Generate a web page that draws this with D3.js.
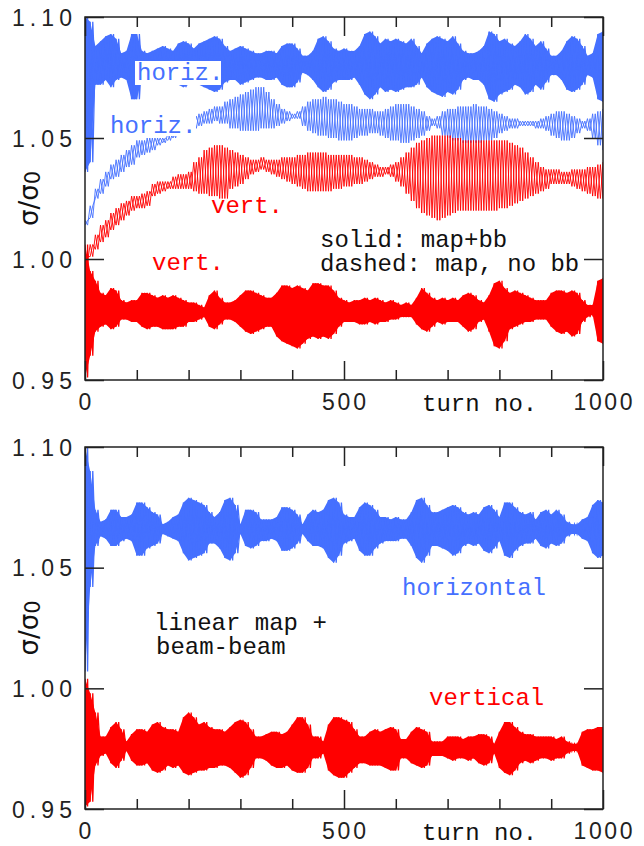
<!DOCTYPE html>
<html><head><meta charset="utf-8">
<script src="https://cdn.jsdelivr.net/npm/d3@7/dist/d3.min.js"></script>
<style>body{margin:0;background:#fff}svg{display:block}</style>
</head><body>
<script>
// sample turns (every 10 turns); hi = upper peak, lo = lower peak of the oscillation
const turns = d3.range(0, 1001, 10);

// ---- top panel: solid = map+bb, dashed = map, no bb ----
const topHSolidHi = [1.100,1.098,1.088,1.090,1.092,1.093,1.091,1.085,1.086,1.093,
1.093,1.086,1.085,1.086,1.087,1.088,1.087,1.086,1.089,1.090,
1.089,1.087,1.089,1.090,1.091,1.092,1.091,1.088,1.086,1.087,
1.088,1.087,1.086,1.085,1.085,1.086,1.086,1.085,1.088,1.089,
1.089,1.087,1.084,1.084,1.086,1.091,1.092,1.090,1.087,1.086,
1.087,1.086,1.086,1.088,1.093,1.094,1.092,1.089,1.091,1.090,
1.091,1.090,1.089,1.091,1.088,1.085,1.089,1.091,1.092,1.091,
1.090,1.092,1.089,1.086,1.085,1.085,1.086,1.088,1.094,1.093,
1.090,1.091,1.089,1.088,1.090,1.093,1.091,1.088,1.090,1.087,
1.084,1.084,1.086,1.090,1.092,1.091,1.088,1.084,1.085,1.093,1.094];
const topHSolidLo = [1.036,1.040,1.072,1.072,1.074,1.071,1.074,1.075,1.074,1.066,
1.066,1.075,1.075,1.074,1.073,1.073,1.074,1.074,1.072,1.071,
1.072,1.073,1.072,1.071,1.070,1.069,1.070,1.073,1.074,1.074,
1.072,1.073,1.074,1.075,1.075,1.074,1.074,1.075,1.072,1.071,
1.071,1.073,1.077,1.076,1.074,1.071,1.069,1.070,1.073,1.074,
1.074,1.074,1.075,1.072,1.068,1.066,1.068,1.071,1.069,1.070,
1.069,1.070,1.071,1.071,1.072,1.075,1.071,1.069,1.068,1.067,
1.069,1.068,1.070,1.074,1.075,1.074,1.074,1.072,1.066,1.065,
1.068,1.069,1.070,1.072,1.071,1.068,1.069,1.072,1.070,1.073,
1.076,1.076,1.074,1.070,1.069,1.070,1.072,1.076,1.075,1.066,1.065];
const topHDashHi = [1.016,1.022,1.029,1.033,1.036,1.039,1.041,1.043,1.045,1.047,
1.049,1.049,1.050,1.050,1.050,1.050,1.052,1.053,1.055,1.056,
1.057,1.059,1.060,1.061,1.062,1.063,1.063,1.065,1.066,1.067,
1.068,1.069,1.070,1.071,1.071,1.069,1.066,1.064,1.062,1.061,
1.060,1.061,1.063,1.065,1.066,1.066,1.067,1.066,1.066,1.065,
1.064,1.064,1.063,1.062,1.062,1.062,1.061,1.061,1.062,1.063,
1.064,1.064,1.064,1.063,1.062,1.061,1.059,1.058,1.059,1.061,
1.062,1.062,1.063,1.063,1.063,1.064,1.063,1.063,1.062,1.061,
1.060,1.059,1.058,1.058,1.057,1.057,1.057,1.057,1.058,1.059,
1.060,1.061,1.061,1.060,1.059,1.058,1.057,1.058,1.060,1.061,1.062];
const topHDashLo = [1.014,1.017,1.025,1.027,1.030,1.033,1.034,1.036,1.038,1.039,
1.042,1.043,1.044,1.045,1.047,1.048,1.049,1.050,1.051,1.052,
1.053,1.054,1.055,1.056,1.056,1.057,1.056,1.056,1.054,1.054,
1.053,1.053,1.053,1.053,1.054,1.054,1.054,1.055,1.056,1.057,
1.058,1.058,1.055,1.053,1.052,1.051,1.051,1.050,1.050,1.049,
1.049,1.049,1.050,1.051,1.051,1.052,1.052,1.051,1.050,1.049,
1.049,1.048,1.048,1.049,1.050,1.051,1.053,1.055,1.054,1.051,
1.050,1.049,1.049,1.048,1.048,1.048,1.048,1.049,1.049,1.050,
1.052,1.053,1.054,1.054,1.055,1.055,1.055,1.054,1.054,1.053,
1.051,1.050,1.049,1.049,1.050,1.052,1.054,1.053,1.050,1.047,1.045];
const topVDashHi = [1.001,1.006,1.010,1.014,1.016,1.019,1.021,1.023,1.024,1.026,
1.026,1.027,1.028,1.031,1.032,1.032,1.032,1.034,1.035,1.035,
1.036,1.040,1.042,1.045,1.046,1.047,1.047,1.046,1.045,1.044,
1.043,1.042,1.041,1.041,1.042,1.041,1.041,1.041,1.042,1.042,
1.042,1.043,1.043,1.044,1.044,1.044,1.044,1.043,1.043,1.043,
1.043,1.043,1.042,1.042,1.041,1.040,1.039,1.038,1.038,1.039,
1.040,1.042,1.044,1.046,1.048,1.049,1.050,1.051,1.051,1.051,
1.051,1.050,1.050,1.049,1.049,1.049,1.049,1.049,1.049,1.049,
1.049,1.049,1.048,1.047,1.046,1.044,1.042,1.040,1.038,1.037,
1.037,1.037,1.036,1.036,1.037,1.037,1.037,1.038,1.038,1.039,1.040];
const topVDashLo = [0.999,1.001,1.004,1.007,1.009,1.012,1.014,1.016,1.018,1.020,
1.021,1.021,1.022,1.026,1.027,1.028,1.029,1.029,1.029,1.029,
1.029,1.028,1.027,1.027,1.026,1.026,1.025,1.025,1.029,1.030,
1.031,1.033,1.035,1.036,1.037,1.036,1.035,1.034,1.033,1.032,
1.031,1.030,1.029,1.028,1.028,1.028,1.028,1.028,1.029,1.029,
1.030,1.030,1.031,1.031,1.032,1.033,1.034,1.034,1.035,1.034,
1.032,1.030,1.027,1.024,1.021,1.019,1.018,1.017,1.016,1.017,
1.018,1.019,1.020,1.020,1.020,1.020,1.020,1.020,1.020,1.020,
1.021,1.021,1.022,1.023,1.024,1.025,1.026,1.027,1.028,1.029,
1.031,1.031,1.031,1.031,1.030,1.029,1.028,1.027,1.026,1.025,1.025];
const topVSolidHi = [1.006,0.995,0.991,0.986,0.985,0.988,0.987,0.983,0.982,0.983,
0.983,0.986,0.986,0.985,0.984,0.985,0.984,0.985,0.984,0.983,
0.982,0.982,0.981,0.980,0.985,0.987,0.984,0.982,0.982,0.983,
0.985,0.987,0.987,0.986,0.985,0.984,0.984,0.986,0.989,0.989,
0.988,0.989,0.988,0.987,0.990,0.990,0.989,0.989,0.987,0.984,
0.983,0.982,0.983,0.983,0.984,0.983,0.984,0.983,0.982,0.983,
0.982,0.981,0.982,0.981,0.984,0.988,0.986,0.984,0.983,0.984,
0.983,0.984,0.983,0.985,0.986,0.985,0.983,0.982,0.985,0.990,
0.991,0.988,0.986,0.987,0.986,0.985,0.984,0.983,0.983,0.983,
0.986,0.987,0.987,0.986,0.987,0.986,0.983,0.981,0.981,0.991,0.992];
const topVSolidLo = [0.951,0.960,0.970,0.972,0.973,0.971,0.972,0.975,0.975,0.974,
0.974,0.972,0.971,0.972,0.972,0.971,0.971,0.971,0.972,0.972,
0.974,0.974,0.975,0.976,0.972,0.971,0.973,0.975,0.975,0.974,
0.972,0.970,0.969,0.970,0.971,0.972,0.972,0.968,0.966,0.965,
0.964,0.963,0.965,0.967,0.968,0.967,0.968,0.967,0.969,0.972,
0.974,0.974,0.974,0.973,0.973,0.974,0.973,0.974,0.974,0.975,
0.975,0.976,0.976,0.976,0.973,0.971,0.970,0.972,0.974,0.973,
0.974,0.974,0.974,0.972,0.970,0.971,0.974,0.975,0.970,0.964,
0.963,0.966,0.971,0.972,0.973,0.974,0.974,0.975,0.975,0.975,
0.972,0.970,0.969,0.970,0.968,0.969,0.974,0.976,0.977,0.966,0.965];

// ---- bottom panel: linear map + beam-beam ----
const botHHi = [1.100,1.090,1.074,1.069,1.070,1.074,1.074,1.071,1.071,1.072,
1.077,1.077,1.075,1.073,1.072,1.068,1.069,1.071,1.072,1.077,
1.079,1.078,1.077,1.076,1.073,1.071,1.073,1.078,1.079,1.076,
1.068,1.074,1.074,1.073,1.070,1.070,1.070,1.071,1.075,1.075,
1.074,1.072,1.068,1.072,1.074,1.073,1.074,1.078,1.079,1.077,
1.072,1.071,1.071,1.075,1.077,1.076,1.074,1.071,1.071,1.070,
1.071,1.070,1.070,1.073,1.078,1.079,1.076,1.073,1.073,1.074,
1.075,1.076,1.075,1.073,1.072,1.073,1.072,1.075,1.076,1.074,
1.071,1.077,1.077,1.075,1.073,1.072,1.073,1.070,1.073,1.074,
1.072,1.074,1.072,1.069,1.068,1.068,1.070,1.071,1.076,1.078,1.077];
const botHLo = [1.007,1.042,1.059,1.063,1.062,1.059,1.059,1.061,1.062,1.061,
1.055,1.055,1.058,1.059,1.060,1.064,1.063,1.062,1.061,1.056,
1.053,1.054,1.055,1.056,1.060,1.060,1.058,1.054,1.053,1.056,
1.064,1.059,1.058,1.059,1.061,1.061,1.062,1.061,1.057,1.057,
1.058,1.060,1.064,1.061,1.059,1.059,1.058,1.054,1.052,1.055,
1.060,1.061,1.062,1.057,1.055,1.055,1.058,1.060,1.061,1.061,
1.061,1.062,1.062,1.059,1.054,1.052,1.055,1.059,1.059,1.058,
1.057,1.055,1.056,1.059,1.060,1.059,1.060,1.057,1.056,1.058,
1.061,1.055,1.054,1.057,1.059,1.060,1.060,1.062,1.059,1.058,
1.060,1.059,1.060,1.063,1.064,1.064,1.062,1.061,1.056,1.054,1.055];
const botVHi = [1.004,0.998,0.990,0.980,0.980,0.984,0.986,0.983,0.978,0.981,
0.983,0.983,0.982,0.985,0.986,0.984,0.983,0.983,0.982,0.988,
0.990,0.988,0.985,0.986,0.984,0.983,0.983,0.982,0.984,0.986,
0.987,0.986,0.983,0.980,0.980,0.981,0.982,0.982,0.981,0.982,
0.985,0.988,0.988,0.985,0.980,0.980,0.978,0.985,0.988,0.988,
0.987,0.986,0.983,0.980,0.980,0.982,0.983,0.982,0.983,0.984,
0.983,0.979,0.979,0.982,0.984,0.983,0.982,0.978,0.978,0.978,
0.980,0.980,0.980,0.979,0.980,0.980,0.981,0.981,0.980,0.977,
0.982,0.986,0.986,0.984,0.982,0.981,0.981,0.980,0.980,0.980,
0.980,0.979,0.980,0.978,0.977,0.977,0.982,0.983,0.983,0.984,0.984];
const botVLo = [0.951,0.953,0.968,0.972,0.973,0.969,0.967,0.970,0.974,0.970,
0.968,0.968,0.969,0.966,0.965,0.966,0.968,0.967,0.968,0.965,
0.964,0.965,0.966,0.966,0.967,0.967,0.968,0.968,0.967,0.965,
0.963,0.964,0.967,0.971,0.971,0.970,0.968,0.967,0.967,0.968,
0.966,0.965,0.965,0.967,0.971,0.971,0.973,0.966,0.964,0.963,
0.963,0.965,0.967,0.969,0.969,0.968,0.968,0.968,0.967,0.966,
0.966,0.971,0.971,0.969,0.968,0.967,0.968,0.972,0.972,0.972,
0.971,0.970,0.971,0.971,0.970,0.971,0.969,0.968,0.969,0.973,
0.967,0.965,0.964,0.966,0.969,0.970,0.969,0.970,0.971,0.971,
0.970,0.971,0.971,0.973,0.974,0.974,0.968,0.967,0.966,0.966,0.965];

const xTicks = d3.range(0, 1001, 100);
const xMajor = [0, 500, 1000];
const xTickLabels = ["0", "500", "1000"];
const yTicks = [0.95, 1.00, 1.05, 1.10];
const yTickLabels = ["0.95", "1.00", "1.05", "1.10"];

const BLUE = "#4570ff", RED = "#ff0000";
const W = 644, H = 846;
const svg = d3.select("body").append("svg").attr("width", W).attr("height", H);
const x = d3.scaleLinear().domain([0, 1000]).range([85, 603]);
const MONO = "'Courier New', Courier, 'Liberation Mono', monospace";
const SANS = "'Liberation Sans', Arial, sans-serif";

const panels = [
  { top: 17, bottom: 380, id: "a",
    series: [
      { hi: topHDashHi, lo: topHDashLo, color: BLUE, w: 0.9, solid: false },
      { hi: topVDashHi, lo: topVDashLo, color: RED, w: 0.9, solid: false },
      { hi: topHSolidHi, lo: topHSolidLo, color: BLUE, w: 1.3, solid: true },
      { hi: topVSolidHi, lo: topVSolidLo, color: RED, w: 1.3, solid: true }
    ],
    labels: [
      { t: "horiz.", x: 137, y: 80, c: BLUE, box: [135, 61, 86, 24] },
      { t: "horiz.", x: 110, y: 133, c: BLUE, box: [108, 116, 88, 20] },
      { t: "vert.", x: 211, y: 213, c: RED },
      { t: "vert.", x: 152, y: 270, c: RED },
      { t: "solid: map+bb", x: 320, y: 247, c: "#111" },
      { t: "dashed: map, no bb", x: 320, y: 271, c: "#111" }
    ] },
  { top: 447, bottom: 809, id: "b",
    series: [
      { hi: botHHi, lo: botHLo, color: BLUE, w: 1.3, solid: true },
      { hi: botVHi, lo: botVLo, color: RED, w: 1.3, solid: true }
    ],
    labels: [
      { t: "horizontal", x: 402, y: 595, c: BLUE },
      { t: "vertical", x: 429, y: 705, c: RED },
      { t: "linear map +", x: 154, y: 630, c: "#111" },
      { t: "beam-beam", x: 156, y: 654, c: "#111" }
    ] }
];

panels.forEach(p => {
  const y = d3.scaleLinear().domain([0.95, 1.10]).range([p.bottom, p.top]);
  const g = svg.append("g");
  svg.append("clipPath").attr("id", "clip" + p.id).append("rect")
    .attr("x", x(0)).attr("y", p.top).attr("width", x(1000) - x(0)).attr("height", p.bottom - p.top);

  const line = d3.line().x(d => x(d[0])).y(d => y(d[1]));
  const area = d3.area().x((d, i) => x(turns[i])).y0(d => y(d[0])).y1(d => y(d[1]));
  const dg = g.append("g").attr("clip-path", `url(#clip${p.id})`);
  p.series.forEach(s => {
    if (s.solid) {
      dg.append("path").attr("d", area(turns.map((t, i) => [s.lo[i], s.hi[i]])))
        .attr("fill", s.color).attr("stroke", "none");
    }
    // two interleaved zigzags through the read peaks (beat lattice)
    const a = turns.flatMap((t, i) => [[t, s.hi[i]], [t + 5, s.lo[i]]]);
    const b = turns.flatMap((t, i) => [[t, s.lo[i]], [t + 5, s.hi[i]]]);
    [a, b].forEach(pts => dg.append("path").attr("d", line(pts)).attr("fill", "none")
      .attr("stroke", s.color).attr("stroke-width", s.w));
  });

  // axes (ticks inside)
  const tickStyle = sel => { sel.select(".domain").remove();
    sel.selectAll(".tick line").attr("stroke", "#222").attr("stroke-width", 1.5);
    sel.selectAll(".tick text").remove(); };
  const bx = g.append("g").attr("transform", `translate(0,${p.bottom})`)
    .call(d3.axisBottom(x).tickValues(xTicks).tickSize(-10)).call(tickStyle);
  bx.selectAll(".tick line").filter(d => xMajor.includes(d)).attr("y2", -19);
  const tx = g.append("g").attr("transform", `translate(0,${p.top})`)
    .call(d3.axisTop(x).tickValues(xTicks).tickSize(-10)).call(tickStyle);
  tx.selectAll(".tick line").filter(d => xMajor.includes(d)).attr("y2", 19);
  g.append("g").attr("transform", `translate(${x(0)},0)`)
    .call(d3.axisLeft(y).tickValues(yTicks).tickSize(-19)).call(tickStyle);
  g.append("g").attr("transform", `translate(${x(1000)},0)`)
    .call(d3.axisRight(y).tickValues(yTicks).tickSize(-19)).call(tickStyle);

  g.append("rect").attr("x", x(0)).attr("y", p.top).attr("width", x(1000) - x(0))
    .attr("height", p.bottom - p.top).attr("fill", "none").attr("stroke", "#222").attr("stroke-width", 1.5);

  // tick labels
  yTicks.forEach((v, i) => {
    g.append("text").attr("x", 12).attr("y", y(v) + 8.5).text(yTickLabels[i])
      .attr("font-family", SANS).attr("font-size", 23).attr("fill", "#222")
      .attr("textLength", 60).attr("lengthAdjust", "spacing");
  });
  xMajor.forEach((v, i) => {
    const s = xTickLabels[i];
    const t = g.append("text").attr("x", x(v)).attr("y", p.bottom + 30).text(s)
      .attr("text-anchor", "middle").attr("font-family", SANS).attr("font-size", 23).attr("fill", "#222");
    if (s.length > 1) t.attr("textLength", s.length * 15 - 1).attr("lengthAdjust", "spacing");
  });
  g.append("text").attr("x", 422).attr("y", p.bottom + 31).text("turn no.")
    .attr("font-family", MONO).attr("font-size", 24).attr("fill", "#111");

  // y label
  const yl = g.append("text").attr("transform", `translate(38,${(p.top + p.bottom) / 2}) rotate(-90)`)
    .attr("text-anchor", "middle").attr("font-family", "'DejaVu Sans', sans-serif").attr("font-size", 26).attr("fill", "#111");
  yl.append("tspan").text("σ/σ");
  yl.append("tspan").text("0").attr("font-size", 21).attr("dy", 2);

  // annotations
  p.labels.forEach(l => {
    if (l.box) g.append("rect").attr("x", l.box[0]).attr("y", l.box[1]).attr("width", l.box[2])
      .attr("height", l.box[3]).attr("fill", "#fff");
    g.append("text").attr("x", l.x).attr("y", l.y).text(l.t).attr("fill", l.c)
      .attr("font-family", MONO).attr("font-size", 24);
  });
});
</script>
</body></html>
